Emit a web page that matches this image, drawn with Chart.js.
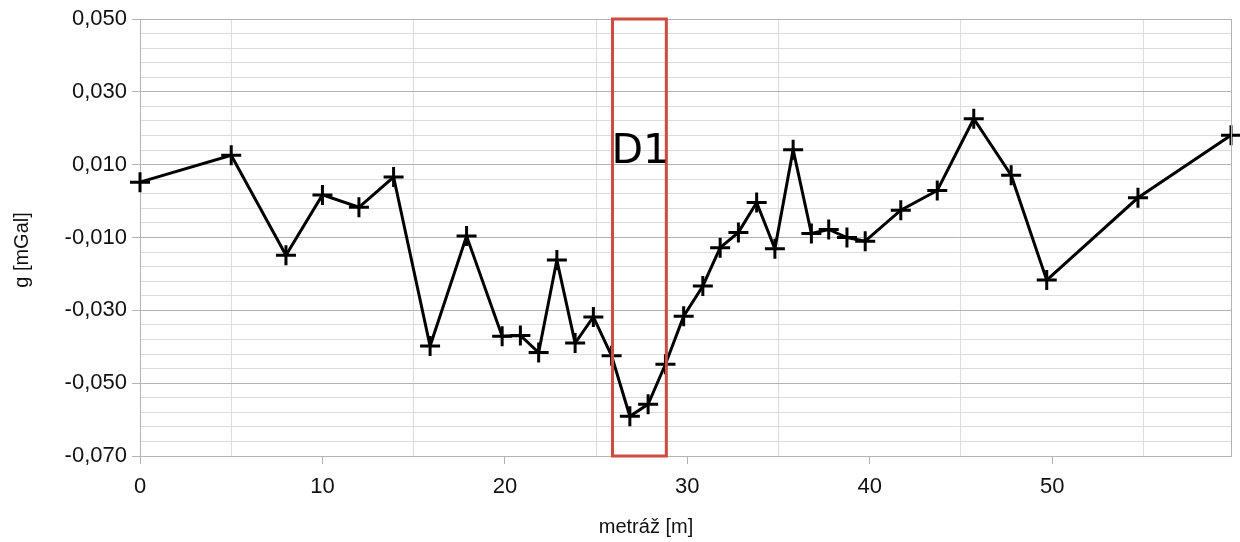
<!DOCTYPE html>
<html>
<head>
<meta charset="utf-8">
<script src="https://cdn.jsdelivr.net/npm/chart.js"></script>
<style>
  html, body { margin: 0; padding: 0; background: #fff; }
  #wrap { width: 1240px; height: 542px; }
</style>
</head>
<body>
<div id="wrap"><canvas id="myChart" width="1240" height="542"></canvas></div>
<script>
const metraz = [0, 5, 8, 10, 12, 13.9, 15.9, 17.9, 19.85, 20.85, 21.85, 22.85, 23.85, 24.85, 25.85,
  26.85, 27.85, 28.8, 29.8, 30.85, 31.8, 32.8, 33.8, 34.8, 35.8, 36.8, 37.75, 38.75, 39.75,
  41.7, 43.7, 45.7, 47.75, 49.7, 54.7, 59.8];
const gravity = [0.0052, 0.0126, -0.0149, 0.0017, -0.0017, 0.0066, -0.0398, -0.0096, -0.0371, -0.0369,
  -0.0416, -0.0162, -0.0390, -0.0318, -0.0425, -0.0591, -0.0558, -0.0448, -0.0316, -0.0233,
  -0.0128, -0.0086, -0.0004, -0.0131, 0.0141, -0.0089, -0.0078, -0.0100, -0.0110, -0.0025,
  0.0029, 0.0226, 0.0071, -0.0217, 0.0009, 0.0181];

// Axis ticks
const xTickValues = [0, 10, 20, 30, 40, 50];
const xTickLabels = ['0', '10', '20', '30', '40', '50'];
const xGridValues = [5, 15, 25, 35, 45, 55];
const yTickValues = [-0.07, -0.05, -0.03, -0.01, 0.01, 0.03, 0.05];
const yTickLabels = ['-0,070', '-0,050', '-0,030', '-0,010', '0,010', '0,030', '0,050'];
const yMinorPerMajor = 5;

// Highlighted zone
const zoneFrom = 25.9;
const zoneTo = 28.85;
const zoneLabel = 'D1';
const zoneLabelY = 0.0104;

const xMin = 0, xMax = 59.8;
const xTitle = 'metráž [m]';
const yTitle = 'g [mGal]';

const MAJOR = '#b3b3b3';
const MINOR = '#dddddd';
const FONT = '"Liberation Sans", Arial, sans-serif';
const LABEL_FONT = '"DejaVu Sans", sans-serif';

function near(a, b) { return Math.abs(a - b) < 1e-9; }
function isMajorY(v) { return yTickValues.some(t => near(t, v)); }
function isMajorX(v) { return xTickValues.some(t => near(t, v)); }

// y gridlines: majors plus evenly split minors in between
let yGrid = [];
for (let i = 0; i < yTickValues.length; i++) {
  yGrid.push(yTickValues[i]);
  if (i < yTickValues.length - 1) {
    const step = (yTickValues[i + 1] - yTickValues[i]) / yMinorPerMajor;
    for (let k = 1; k < yMinorPerMajor; k++) yGrid.push(yTickValues[i] + k * step);
  }
}
let xGrid = xTickValues.concat(xGridValues).sort((a, b) => a - b);

//Draws the D1 box and the axis titles
const zonePlugin = {
  id: 'zone',
  afterDatasetsDraw(chart) {
    const {ctx, scales: {x, y}} = chart;
    const x0 = x.getPixelForValue(zoneFrom);
    const x1 = x.getPixelForValue(zoneTo);
    const yTop = y.getPixelForValue(y.max);
    const yBot = y.getPixelForValue(y.min);
    ctx.save();
    ctx.strokeStyle = '#cf4a3f';
    ctx.lineWidth = 3;
    ctx.strokeRect(x0, yTop, x1 - x0, yBot - yTop);
    ctx.fillStyle = '#000';
    ctx.font = '41px ' + LABEL_FONT;
    ctx.textAlign = 'left';
    ctx.textBaseline = 'alphabetic';
    ctx.fillText(zoneLabel, x0 - 1, y.getPixelForValue(zoneLabelY));
    // right frame line
    ctx.strokeStyle = MAJOR;
    ctx.lineWidth = 1;
    const xr = Math.round(x.getPixelForValue(x.max)) + 0.5;
    ctx.beginPath();
    ctx.moveTo(xr, yTop);
    ctx.lineTo(xr, yBot);
    ctx.stroke();
    ctx.restore();
  },
  afterDraw(chart) {
    const {ctx} = chart;
    ctx.save();
    ctx.fillStyle = '#111';
    ctx.textAlign = 'center';
    ctx.font = '20px ' + FONT;
    ctx.textBaseline = 'alphabetic';
    ctx.fillText(xTitle, 646, 533);
    ctx.translate(22, 250);
    ctx.rotate(-Math.PI / 2);
    ctx.textBaseline = 'middle';
    ctx.fillText(yTitle, 0, 0);
    ctx.restore();
  }
};

let ctx = document.getElementById('myChart').getContext('2d');
let myChart = new Chart(ctx, {
  type: 'line',
  data: {
    datasets: [{
      data: metraz.map((m, i) => ({x: m, y: gravity[i]})),
      borderColor: '#000',
      backgroundColor: '#000',
      borderWidth: 3,
      pointStyle: 'cross',
      pointRadius: 10,
      pointBorderWidth: 3,
      pointBorderColor: '#000',
      tension: 0,
      clip: false
    }]
  },
  options: {
    responsive: false,
    animation: false,
    layout: { autoPadding: false, padding: { top: 19, right: 9, left: 0, bottom: 0 } },
    plugins: { legend: { display: false }, tooltip: { enabled: false } },
    scales: {
      x: {
        type: 'linear',
        min: xMin,
        max: xMax,
        afterBuildTicks: s => { s.ticks = xGrid.map(v => ({value: v})); },
        afterFit: s => { s.height = 86; },
        ticks: {
          autoSkip: false,
          maxRotation: 0,
          padding: 10,
          color: '#111',
          font: { family: FONT, size: 22 },
          callback: v => {
            const i = xTickValues.findIndex(t => near(t, v));
            return i >= 0 ? xTickLabels[i] : '';
          }
        },
        grid: {
          tickLength: 8,
          color: c => isMajorX(c.tick.value) ? 'rgba(0,0,0,0)' : MINOR,
          tickColor: c => isMajorX(c.tick.value) ? MAJOR : 'rgba(0,0,0,0)'
        },
        border: { color: MAJOR }
      },
      y: {
        min: -0.07,
        max: 0.05,
        afterBuildTicks: s => { s.ticks = yGrid.map(v => ({value: v})); },
        afterFit: s => { s.width = 140; },
        ticks: {
          autoSkip: false,
          padding: 5,
          color: '#111',
          font: { family: FONT, size: 22 },
          callback: v => {
            const i = yTickValues.findIndex(t => near(t, v));
            return i >= 0 ? yTickLabels[i] : '';
          }
        },
        grid: {
          tickLength: 8,
          color: c => isMajorY(c.tick.value) ? MAJOR : MINOR,
          tickColor: c => isMajorY(c.tick.value) ? MAJOR : 'rgba(0,0,0,0)'
        },
        border: { color: MAJOR }
      }
    }
  },
  plugins: [zonePlugin]
});
</script>
</body>
</html>
